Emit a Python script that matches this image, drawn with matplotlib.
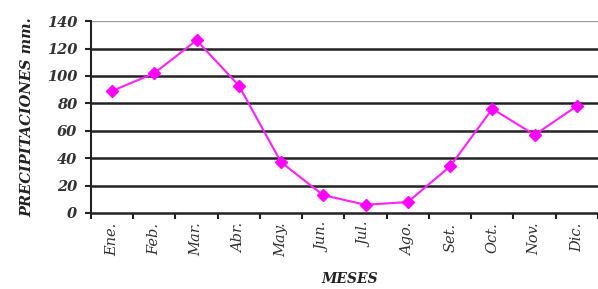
import numpy as np
import matplotlib.pyplot as plt

# Datos
meses = ['Ene.', 'Feb.', 'Mar.', 'Abr.', 'May.', 'Jun.', 'Jul.', 'Ago.',
         'Set.', 'Oct.', 'Nov.', 'Dic.']
precip = [89, 102, 126, 93, 37, 13, 6, 8, 34, 76, 57, 78]
y_ticks = [0, 20, 40, 60, 80, 100, 120, 140]

plt.rcParams['font.family'] = ['DejaVu Serif']

fig = plt.figure(figsize=(5.98, 2.89), dpi=100)
ax = fig.add_axes([0.152, 0.263, 0.848, 0.664])

x = np.arange(len(meses))
ax.plot(x, precip, color='#ff20ff', linewidth=1.5, marker='D',
        markersize=6, markerfacecolor='#ff00ff', markeredgecolor='#ff00ff',
        zorder=3)

# Rejilla horizontal
for v in y_ticks[1:]:
    col = '#999999' if v == 140 else '#222222'
    lw = 1.0 if v == 140 else 1.8
    ax.axhline(v, color=col, linewidth=lw, zorder=1)

ax.set_ylim(0, 140)
ax.set_xlim(-0.5, 11.05)
ax.set_yticks(y_ticks)
ax.set_yticklabels([str(v) for v in y_ticks], fontsize=10.5, fontweight='bold',
                   fontstyle='italic', color='#333333')

ax.set_xticks(x)
ax.set_xticklabels(meses, rotation=90, fontsize=10.5, fontstyle='italic',
                   color='#333333')
ax.set_xticks(np.arange(-0.5, 12, 1), minor=True)
ax.tick_params(axis='x', which='major', length=0, pad=7)
ax.tick_params(axis='x', which='minor', length=4, width=1.5, direction='out',
               color='#222222')
ax.tick_params(axis='y', length=4, width=1.5, color='#222222', pad=6)

for s in ['top', 'right']:
    ax.spines[s].set_visible(False)
ax.spines['left'].set_linewidth(1.5)
ax.spines['left'].set_color('#222222')
ax.spines['bottom'].set_linewidth(1.8)
ax.spines['bottom'].set_color('#222222')

ax.set_ylabel('PRECIPITACIONES mm.', fontsize=10.5, fontweight='bold',
              fontstyle='italic', color='#222222', labelpad=9)
fig.text(0.585, 0.01, 'MESES', fontsize=10, fontweight='bold',
         fontstyle='italic', color='#222222', ha='center', va='bottom')

plt.savefig('out.png', dpi=100)
plt.close()
